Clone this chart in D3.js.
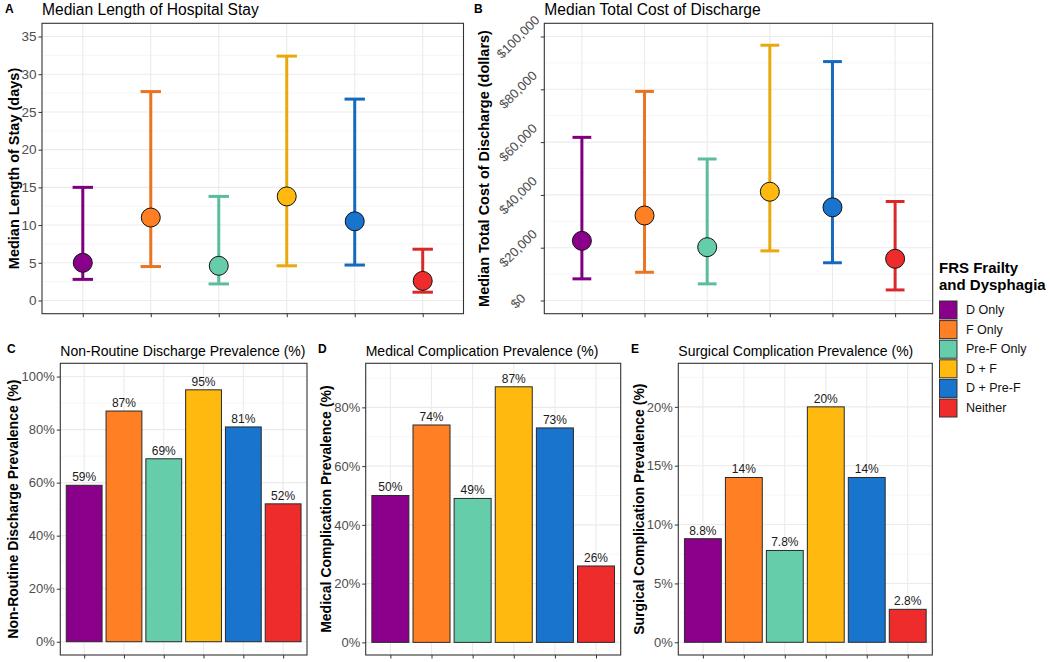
<!DOCTYPE html>
<html>
<head>
<meta charset="utf-8">
<script src="https://cdn.jsdelivr.net/npm/d3@7"></script>
<style>
  html, body { margin: 0; padding: 0; background: #fff; }
  svg { display: block; font-family: "Liberation Sans", Arial, sans-serif; }
</style>
</head>
<body>
<svg id="chart" width="1050" height="662"></svg>
<script>
// ---------------- data ----------------
const groups = ["D Only", "F Only", "Pre-F Only", "D + F", "D + Pre-F", "Neither"];
const groupColors = ["#8B008B", "#FF7F24", "#66CDAA", "#FFB90F", "#1874CD", "#EE2C2C"];

const losMedian = [5.0, 11.0, 4.6, 13.8, 10.5, 2.6];
const losLower  = [2.8, 4.5, 2.2, 4.6, 4.7, 1.1];
const losUpper  = [15.0, 27.7, 13.8, 32.4, 26.7, 6.8];
const losTicks  = [0, 5, 10, 15, 20, 25, 30, 35];

const costMedian = [22600, 32200, 20200, 41200, 35300, 15800];
const costLower  = [8200, 10700, 6300, 18800, 14300, 4000];
const costUpper  = [61800, 79200, 53600, 96700, 90500, 37500];
const costTicks  = [0, 20000, 40000, 60000, 80000, 100000];

const nonRoutine = [59, 87, 69, 95, 81, 52];
const nonRoutineTicks = [0, 20, 40, 60, 80, 100];
const medComp = [50, 74, 49, 87, 73, 26];
const medCompTicks = [0, 20, 40, 60, 80];
const surgComp = [8.8, 14, 7.8, 20, 14, 2.8];
const surgCompTicks = [0, 5, 10, 15, 20];

// ---------------- helpers ----------------
const svg = d3.select("#chart");
const color = d3.scaleOrdinal().domain(groups).range(groupColors);
const GRID = "#EBEBEB", GRID_MINOR = "#F4F4F4", BORDER = "#333333", TICKTXT = "#4D4D4D";

function panel(opts) {
  const { x0, x1, y0, y1, domain, ticks, tag, tagX, title, ytitle, ytitleX,
          tickFont, tickFmt, rotateTicks } = opts;
  const g = svg.append("g");
  const x = d3.scalePoint().domain(groups).range([x0, x1]).padding(0.6);
  const y = d3.scaleLinear().domain(domain).range([y1, y0]);

  // minor grid
  const minor = [];
  const stepT = ticks[1] - ticks[0];
  for (let v = ticks[0] - stepT / 2; v <= domain[1]; v += stepT) {
    if (v >= domain[0]) minor.push(v);
  }
  g.append("g").selectAll("line").data(minor).join("line")
    .attr("x1", x0).attr("x2", x1).attr("y1", d => y(d)).attr("y2", d => y(d))
    .attr("stroke", GRID_MINOR).attr("stroke-width", 0.8);
  // major grid
  g.append("g").selectAll("line").data(ticks).join("line")
    .attr("x1", x0).attr("x2", x1).attr("y1", d => y(d)).attr("y2", d => y(d))
    .attr("stroke", GRID).attr("stroke-width", 1.1);
  g.append("g").selectAll("line").data(groups).join("line")
    .attr("x1", d => x(d)).attr("x2", d => x(d)).attr("y1", y0).attr("y2", y1)
    .attr("stroke", GRID).attr("stroke-width", 1.1);

  // axes
  const ay = g.append("g").attr("transform", `translate(${x0},0)`)
    .call(d3.axisLeft(y).tickValues(ticks).tickSize(3.5).tickPadding(2).tickFormat(tickFmt));
  ay.select(".domain").remove();
  ay.selectAll(".tick line").attr("stroke", BORDER);
  ay.selectAll(".tick text").attr("fill", TICKTXT).style("font-size", tickFont + "px")
    .style("font-family", '"Liberation Sans", Arial, sans-serif');
  if (rotateTicks) {
    ay.selectAll(".tick text")
      .attr("x", null).attr("dy", null)
      .attr("text-anchor", "middle")
      .attr("dominant-baseline", "central")
      .attr("transform", `translate(${rotateTicks - x0},0) rotate(-45)`);
  }
  const ax = g.append("g").attr("transform", `translate(0,${y1})`)
    .call(d3.axisBottom(x).tickSize(3.5).tickFormat(""));
  ax.select(".domain").remove();
  ax.selectAll(".tick line").attr("stroke", BORDER);

  // titles
  svg.append("text").attr("x", tagX).attr("y", y0 - 10).text(tag)
    .attr("font-weight", "bold").attr("font-size", 12).attr("fill", "#000");
  svg.append("text").attr("x", x0).attr("y", y0 - opts.titleGap).text(title)
    .attr("font-size", opts.titleFont).attr("fill", "#000");
  svg.append("text")
    .attr("transform", `translate(${ytitleX},${(y0 + y1) / 2}) rotate(-90)`)
    .attr("text-anchor", "middle").attr("font-weight", "bold")
    .attr("font-size", opts.ytitleFont).attr("fill", "#000").text(ytitle);

  return { g, x, y, border: () => g.append("rect").attr("x", x0).attr("y", y0)
    .attr("width", x1 - x0).attr("height", y1 - y0)
    .attr("fill", "none").attr("stroke", BORDER).attr("stroke-width", 1.1) };
}

function errorPanel(p, med, lo, hi) {
  const step = p.x.step();
  const capW = step * 0.3;
  const data = groups.map((d, i) => ({ g: d, med: med[i], lo: lo[i], hi: hi[i] }));
  const eb = p.g.append("g");
  eb.selectAll("line.v").data(data).join("line").attr("class", "v")
    .attr("x1", d => p.x(d.g)).attr("x2", d => p.x(d.g))
    .attr("y1", d => p.y(d.lo)).attr("y2", d => p.y(d.hi))
    .attr("stroke", d => d3.color(color(d.g)).darker(0.25)).attr("stroke-width", 3);
  ["lo", "hi"].forEach(k => {
    eb.selectAll("line." + k).data(data).join("line").attr("class", k)
      .attr("x1", d => p.x(d.g) - capW / 2).attr("x2", d => p.x(d.g) + capW / 2)
      .attr("y1", d => p.y(d[k])).attr("y2", d => p.y(d[k]))
      .attr("stroke", d => d3.color(color(d.g)).darker(0.25)).attr("stroke-width", 3);
  });
  p.g.append("g").selectAll("circle").data(data).join("circle")
    .attr("cx", d => p.x(d.g)).attr("cy", d => p.y(d.med)).attr("r", 9.5)
    .attr("fill", d => color(d.g)).attr("stroke", "#111").attr("stroke-width", 1);
  p.border();
}

function barPanel(p, vals) {
  const bw = p.x.step() * 0.9;
  const data = groups.map((d, i) => ({ g: d, v: vals[i] }));
  const fmt = d3.format(".2r");
  p.g.append("g").selectAll("rect").data(data).join("rect")
    .attr("x", d => p.x(d.g) - bw / 2).attr("width", bw)
    .attr("y", d => p.y(d.v)).attr("height", d => p.y(0) - p.y(d.v))
    .attr("fill", d => color(d.g)).attr("stroke", "#2a2a2a").attr("stroke-width", 1);
  p.g.append("g").selectAll("text").data(data).join("text")
    .attr("x", d => p.x(d.g)).attr("y", d => p.y(d.v) - 4)
    .attr("text-anchor", "middle").attr("font-size", 12).attr("fill", "#1a1a1a")
    .text(d => fmt(d.v) + "%");
  p.border();
}

// ---------------- panels ----------------
const pA = panel({ x0: 42, x1: 463.5, y0: 23.3, y1: 313.7, domain: [-1.75, 36.75], ticks: losTicks,
  tag: "A", tagX: 5, title: "Median Length of Hospital Stay", titleFont: 15.6, titleGap: 8.5,
  ytitle: "Median Length of Stay (days)", ytitleX: 18.5, ytitleFont: 14.5,
  tickFont: 13.5, tickFmt: d3.format("d") });
errorPanel(pA, losMedian, losLower, losUpper);

const pB = panel({ x0: 544.3, x1: 932.7, y0: 23.3, y1: 313.7, domain: [-5000, 105000], ticks: costTicks,
  tag: "B", tagX: 474, title: "Median Total Cost of Discharge", titleFont: 15.6, titleGap: 8.5,
  ytitle: "Median Total Cost of Discharge (dollars)", ytitleX: 489, ytitleFont: 14.5,
  tickFont: 13, tickFmt: v => "$" + d3.format(",")(v), rotateTicks: 518 });
errorPanel(pB, costMedian, costLower, costUpper);

const pctFmt = v => v + "%";
const pC = panel({ x0: 60.3, x1: 307, y0: 363.3, y1: 655, domain: [-5, 105], ticks: nonRoutineTicks,
  tag: "C", tagX: 7, title: "Non-Routine Discharge Prevalence (%)", titleFont: 14, titleGap: 7,
  ytitle: "Non-Routine Discharge Prevalence (%)", ytitleX: 18, ytitleFont: 14,
  tickFont: 13, tickFmt: pctFmt });
barPanel(pC, nonRoutine);

const pD = panel({ x0: 365.7, x1: 620.7, y0: 363.3, y1: 655, domain: [-4.3, 95], ticks: medCompTicks,
  tag: "D", tagX: 318, title: "Medical Complication Prevalence (%)", titleFont: 14, titleGap: 7,
  ytitle: "Medical Complication Prevalence (%)", ytitleX: 331, ytitleFont: 14,
  tickFont: 13, tickFmt: pctFmt });
barPanel(pD, medComp);

const pE = panel({ x0: 678.3, x1: 932.3, y0: 363.3, y1: 655, domain: [-1.08, 23.7], ticks: surgCompTicks,
  tag: "E", tagX: 631, title: "Surgical Complication Prevalence (%)", titleFont: 14, titleGap: 7,
  ytitle: "Surgical Complication Prevalence (%)", ytitleX: 643.5, ytitleFont: 14,
  tickFont: 13, tickFmt: pctFmt });
barPanel(pE, surgComp);

// ---------------- legend ----------------
const lg = svg.append("g");
lg.append("text").attr("x", 939).attr("y", 273).attr("font-weight", "bold").attr("font-size", 15)
  .text("FRS Frailty");
lg.append("text").attr("x", 939).attr("y", 289.5).attr("font-weight", "bold").attr("font-size", 15)
  .text("and Dysphagia");
const items = lg.selectAll("g.item").data(groups).join("g").attr("class", "item")
  .attr("transform", (d, i) => `translate(939.5,${301 + i * 19.6})`);
items.append("rect").attr("width", 17.5).attr("height", 18)
  .attr("fill", d => color(d)).attr("stroke", "#333").attr("stroke-width", 1);
items.append("text").attr("x", 26.5).attr("y", 9).attr("dominant-baseline", "central")
  .attr("font-size", 12.5).attr("fill", "#111").text(d => d);
</script>
</body>
</html>
